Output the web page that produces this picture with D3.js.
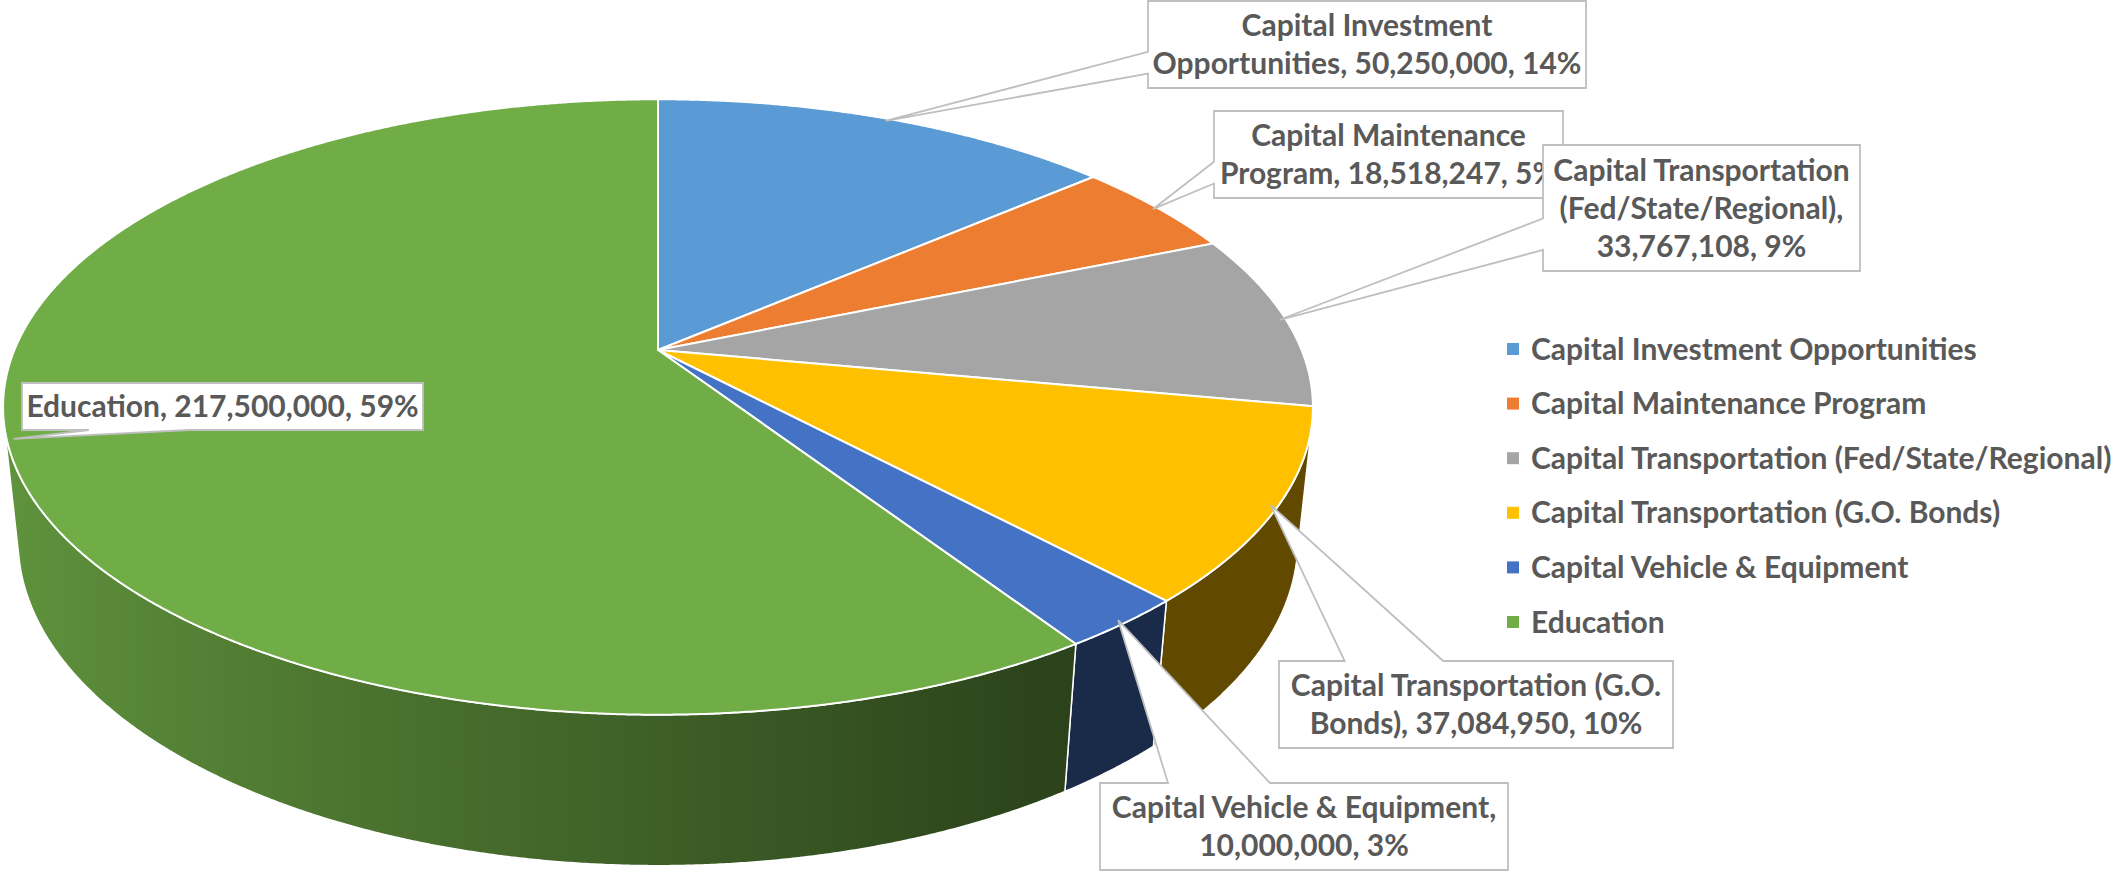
<!DOCTYPE html>
<html lang="en">
<head>
<meta charset="utf-8">
<title>Capital budget - 3D pie</title>
<script src="https://cdn.jsdelivr.net/npm/d3@7/dist/d3.min.js"></script>
<style>
  body { margin: 0; background: #fff; }
  svg { display: block; }
  text { font-family: Lato, "Open Sans", sans-serif; font-weight: 700; fill: #595959; }
</style>
</head>
<body>
<svg width="2115" height="871"></svg>
<script>
// données
var categories = ["Capital Investment Opportunities", "Capital Maintenance Program",
  "Capital Transportation (Fed/State/Regional)", "Capital Transportation (G.O. Bonds)",
  "Capital Vehicle & Equipment", "Education"];
var values = [50250000, 18518247, 33767108, 37084950, 10000000, 217500000];
var colors = ["#5B9BD5", "#ED7D31", "#A5A5A5", "#FFC000", "#4472C4", "#70AD47"];

// boîtes des étiquettes (mise en page) + nombre de mots par ligne
var labelBoxes = [
  {x: 1148, y: 1,   w: 438, h: 87,  lines: [2, 3]},
  {x: 1214, y: 111, w: 349, h: 87,  lines: [2, 3]},
  {x: 1543, y: 145, w: 317, h: 126, lines: [2, 1, 2]},
  {x: 1279, y: 661, w: 394, h: 87,  lines: [3, 3]},
  {x: 1100, y: 783, w: 408, h: 87,  lines: [4, 2]},
  {x: 22,   y: 383, w: 401, h: 47,  lines: [3]}
];

// camera / perspective
var cx = 658, cy = 350, S = 643.6, D = 4.79;
var tilt = 27.5 * Math.PI / 180, sa = Math.sin(tilt), ca = Math.cos(tilt);
var depth = 0.236;

function proj(X, Y, Z) {
  var u = Y * ca - Z * sa, w = Y * sa + Z * ca, f = D / (D - w);
  return [cx + S * X * f, cy - S * u * f];
}
// angle d3.pie (sens horaire depuis midi) -> point du bord
function rim(a, Y) { return proj(Math.sin(a), Y, -Math.cos(a)); }
function arcPts(a0, a1, Y) {
  var n = Math.max(2, Math.ceil((a1 - a0) / 0.004));
  return d3.range(n + 1).map(function (i) { return rim(a0 + (a1 - a0) * i / n, Y); });
}

// partie visible du flanc : Z > 1/(D cos tilt)
var zLim = 1 / (D * ca);
var vis0 = Math.acos(-zLim), vis1 = 2 * Math.PI - vis0;

function shade(c, X) {
  var k = Math.max(0.38, Math.min(0.9, 0.55 - 0.32 * X));
  var r = d3.rgb(c);
  return d3.rgb(r.r * k, r.g * k, r.b * k);
}

var arcs = d3.pie().sort(null).value(function (d) { return d; })(values);
var total = d3.sum(values);
var fmt = d3.format(",");

var svg = d3.select("svg");
var defs = svg.append("defs");
var line = d3.line();

// flancs
arcs.forEach(function (d, i) {
  var a0 = Math.max(d.startAngle, vis0), a1 = Math.min(d.endAngle, vis1);
  if (a1 <= a0) return;
  var top = arcPts(a0, a1, 0), bot = arcPts(a0, a1, -depth).reverse();
  var xs = top.map(function (p) { return p[0]; });
  var xmin = d3.min(xs), xmax = d3.max(xs);
  var stops = d3.range(0, 21).map(function (k) {
    var a = a0 + (a1 - a0) * k / 20;
    return {off: xmax > xmin ? (rim(a, 0)[0] - xmin) / (xmax - xmin) : 0,
            col: shade(colors[i], Math.sin(a))};
  }).sort(function (p, q) { return p.off - q.off; });
  var grad = defs.append("linearGradient")
    .attr("id", "side" + i)
    .attr("gradientUnits", "userSpaceOnUse")
    .attr("x1", xmin).attr("x2", xmax).attr("y1", 0).attr("y2", 0);
  grad.selectAll("stop")
    .data(stops)
    .enter()
    .append("stop")
    .attr("offset", function (s) { return s.off; })
    .attr("stop-color", function (s) { return s.col; });
  svg.append("path")
    .attr("d", line(top.concat(bot)) + "Z")
    .attr("fill", "url(#side" + i + ")")
    .attr("stroke", "#fff")
    .attr("stroke-width", 1.5)
    .attr("stroke-linejoin", "round");
});

// faces du dessus
svg.selectAll("path.top")
  .data(arcs)
  .enter()
  .append("path")
  .attr("class", "top")
  .attr("d", function (d) {
    return line([proj(0, 0, 0)].concat(arcPts(d.startAngle, d.endAngle, 0))) + "Z";
  })
  .attr("fill", function (d, i) { return colors[i]; })
  .attr("stroke", "#fff")
  .attr("stroke-width", 2)
  .attr("stroke-linejoin", "round");

// bulles d'étiquettes
function callout(b, tip) {
  var mx = b.x + b.w / 2, my = b.y + b.h / 2;
  var dx = (tip[0] - mx) / b.w, dy = (tip[1] - my) / b.h;
  var side = Math.abs(dy) >= Math.abs(dx) ? (dy < 0 ? "top" : "bottom") : (dx < 0 ? "left" : "right");
  var fx = dx < 0 ? [2 / 12, 5 / 12] : [7 / 12, 10 / 12];
  var fy = dy < 0 ? [2 / 12, 5 / 12] : [7 / 12, 10 / 12];
  var x0 = b.x, y0 = b.y, x1 = b.x + b.w, y1 = b.y + b.h;
  var p = d3.path();
  p.moveTo(x0, y0);
  if (side == "top") { p.lineTo(x0 + b.w * fx[0], y0); p.lineTo(tip[0], tip[1]); p.lineTo(x0 + b.w * fx[1], y0); }
  p.lineTo(x1, y0);
  if (side == "right") { p.lineTo(x1, y0 + b.h * fy[0]); p.lineTo(tip[0], tip[1]); p.lineTo(x1, y0 + b.h * fy[1]); }
  p.lineTo(x1, y1);
  if (side == "bottom") { p.lineTo(x0 + b.w * fx[1], y1); p.lineTo(tip[0], tip[1]); p.lineTo(x0 + b.w * fx[0], y1); }
  p.lineTo(x0, y1);
  if (side == "left") { p.lineTo(x0, y0 + b.h * fy[1]); p.lineTo(tip[0], tip[1]); p.lineTo(x0, y0 + b.h * fy[0]); }
  p.closePath();
  return p.toString();
}

arcs.forEach(function (d, i) {
  var b = labelBoxes[i];
  var mid = (d.startAngle + d.endAngle) / 2;
  var tip = proj(0.99 * Math.sin(mid), 0, -0.99 * Math.cos(mid));
  svg.append("path")
    .attr("d", callout(b, tip))
    .attr("fill", "#fff")
    .attr("stroke", "#BFBFBF")
    .attr("stroke-width", 1.8);

  var words = (categories[i] + ", " + fmt(values[i]) + ", " + Math.round(values[i] / total * 100) + "%").split(" ");
  var rows = [], k = 0;
  b.lines.forEach(function (n) { rows.push(words.slice(k, k + n).join(" ")); k += n; });
  var t = svg.append("text")
    .attr("text-anchor", "middle")
    .attr("font-size", 30);
  rows.forEach(function (r, j) {
    t.append("tspan")
      .attr("x", b.x + b.w / 2)
      .attr("y", b.y + b.h / 2 + (j - (rows.length - 1) / 2) * 38)
      .attr("dy", "0.35em")
      .text(r);
  });
});

// légende
var legend = svg.append("g").attr("transform", "translate(1507,349)");
var item = legend.selectAll("g")
  .data(categories)
  .enter()
  .append("g")
  .attr("transform", function (d, i) { return "translate(0," + i * 54.6 + ")"; });
item.append("rect")
  .attr("x", 0).attr("y", -6).attr("width", 12).attr("height", 12)
  .attr("fill", function (d, i) { return colors[i]; });
item.append("text")
  .attr("x", 24).attr("dy", "0.35em")
  .attr("font-size", 30)
  .text(function (d) { return d; });
</script>
</body>
</html>
